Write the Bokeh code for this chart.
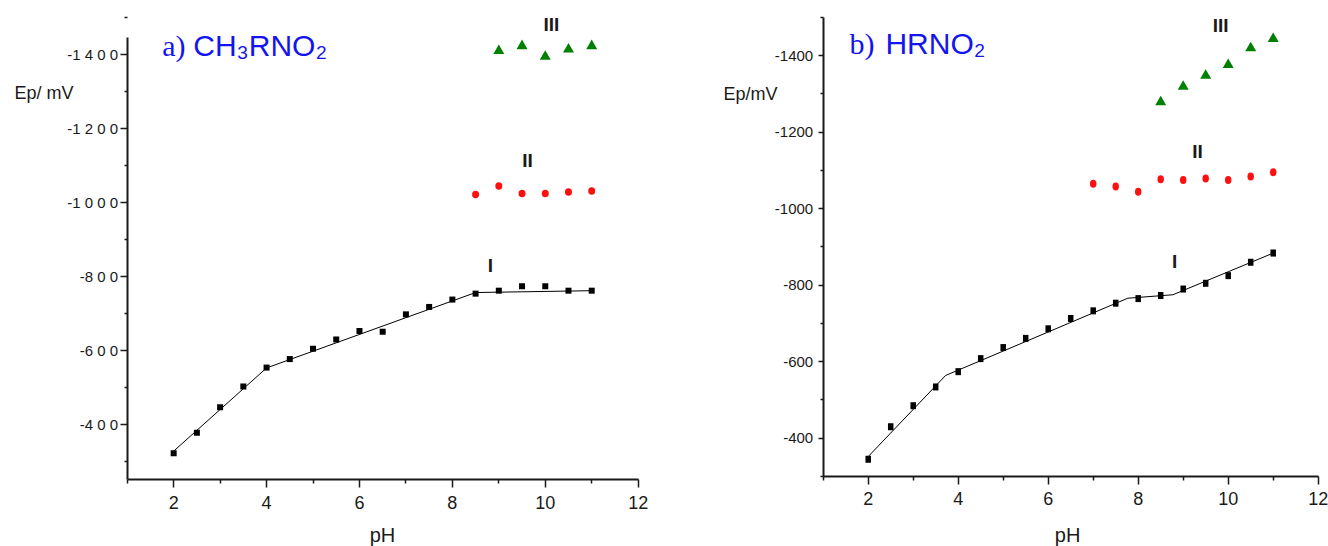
from bokeh.plotting import figure
from bokeh.models import Range1d, FixedTicker, Label
from bokeh.layouts import row
from bokeh.embed import file_html
from bokeh.resources import INLINE

# ---------------- data: panel a) CH3RNO2 ----------------
ph_a_I = [2, 2.5, 3, 3.5, 4, 4.5, 5, 5.5, 6, 6.5, 7, 7.5, 8, 8.5, 9, 9.5, 10, 10.5, 11]
ep_a_I = [-322, -378, -447, -503, -554, -577, -605, -630, -653, -651, -698, -718, -738, -754,
          -762, -774, -774, -762, -762]
fit_a_ph = [2, 4, 8.5, 11]
fit_a_ep = [-328, -553, -757, -762]
ph_a_II = [8.5, 9, 9.5, 10, 10.5, 11]
ep_a_II = [-1022, -1045, -1025, -1025, -1029, -1032]
ph_a_III = [9, 9.5, 10, 10.5, 11]
ep_a_III = [-1411, -1424, -1395, -1415, -1424]

# ---------------- data: panel b) HRNO2 ----------------
ph_b_I = [2, 2.5, 3, 3.5, 4, 4.5, 5, 5.5, 6, 6.5, 7, 7.5, 8, 8.5, 9, 9.5, 10, 10.5, 11]
ep_b_I = [-345, -430, -485, -534, -574, -608, -637, -661, -686, -713, -733, -753, -765, -773,
          -790, -805, -825, -860, -884]
fit_b_ph = [2, 3.72, 7.77, 8.77, 11]
fit_b_ep = [-352, -564, -766, -775, -884]
ph_b_II = [7, 7.5, 8, 8.5, 9, 9.5, 10, 10.5, 11]
ep_b_II = [-1065, -1058, -1044, -1077, -1075, -1079, -1075, -1084, -1095]
ph_b_III = [8.5, 9, 9.5, 10, 10.5, 11]
ep_b_III = [-1279, -1319, -1348, -1376, -1420, -1444]

# ticks
x_major = [2, 4, 6, 8, 10, 12]
x_minor = [1, 3, 5, 7, 9, 11]
y_major = [-1400, -1200, -1000, -800, -600, -400]
y_minor = [-1500, -1300, -1100, -900, -700, -500, -300]
y_labels_a = ["-1 4 0 0", "-1 2 0 0", "-1 0 0 0", "-8 0 0", "-6 0 0", "-4 0 0"]
y_labels_b = ["-1400", "-1200", "-1000", "-800", "-600", "-400"]

SANS = "Liberation Sans"
SERIF = "Liberation Serif"
INK = "#1a1a1a"
RED = "#ff1010"
GREEN = "#008000"
BLUE = "#1414f0"


def make_panel(xr, yr, y_bounds, ylabels, ystandoff, ytick_out):
    p = figure(width=664, height=546, output_backend="svg", toolbar_location=None,
               x_range=xr, y_range=yr, min_border=0)
    p.grid.visible = False
    p.outline_line_color = None
    p.background_fill_color = "white"
    p.border_fill_color = "white"
    p.xaxis.ticker = FixedTicker(ticks=x_major, minor_ticks=x_minor)
    p.yaxis.ticker = FixedTicker(ticks=y_major, minor_ticks=y_minor)
    p.yaxis.major_label_overrides = {v: s for v, s in zip(y_major, ylabels)}
    # axes drawn at pH 1 / at the bottom of the Ep range
    p.xaxis.fixed_location = y_bounds[1]
    p.xaxis.bounds = (1, 12)
    p.yaxis.fixed_location = 1
    p.yaxis.bounds = y_bounds
    for ax in (p.xaxis[0], p.yaxis[0]):
        ax.axis_line_width = 2
        ax.axis_line_color = INK
        ax.major_tick_line_color = INK
        ax.minor_tick_line_color = INK
        ax.major_tick_line_width = 1.5
        ax.minor_tick_line_width = 1.5
        ax.major_tick_in = 0
        ax.minor_tick_in = 0
        ax.major_label_text_font = SANS
        ax.major_label_text_color = INK
    p.xaxis.major_tick_out = 8
    p.xaxis.minor_tick_out = 4
    p.xaxis.major_label_text_font_size = "18px"
    p.xaxis.major_label_standoff = 8
    p.yaxis.major_tick_out = ytick_out
    p.yaxis.minor_tick_out = 3
    p.yaxis.major_label_text_font_size = "15px"
    p.yaxis.major_label_standoff = ystandoff
    return p


def add_label(p, x, y, text, font, size, color=INK, align="left", style="normal"):
    p.add_layout(Label(x=x, y=y, text=text, text_font=font, text_font_size=size,
                       text_color=color, text_align=align, text_baseline="alphabetic",
                       text_font_style=style))


# ---------------- panel a ----------------
pa = make_panel(Range1d(-1.728, 12.567), Range1d(-70, -1547), (-1448, -250), y_labels_a, 2, 7)
pa.line(fit_a_ph, fit_a_ep, line_color="black", line_width=1)
pa.rect(ph_a_I, ep_a_I, width=6, height=6, width_units="screen", height_units="screen",
        fill_color="black", line_color=None)
pa.ellipse(ph_a_II, ep_a_II, width=7, height=7.5, width_units="screen", height_units="screen",
           fill_color=RED, line_color=None)
pa.scatter(ph_a_III, ep_a_III, marker="triangle", size=11, fill_color=GREEN, line_color=None)
add_label(pa, 1.753, -1426, "a)", SERIF, "30px", BLUE)
add_label(pa, 2.421, -1426, "CH\u2083RNO\u2082", SANS, "30px", BLUE)
add_label(pa, -1.426, -1298, "Ep/ mV", SANS, "18px")
add_label(pa, 6.496, -102, "pH", SANS, "20px", align="center")
add_label(pa, 10.13, -1482, "III", SANS, "19px", align="center", style="bold")
add_label(pa, 9.62, -1114, "II", SANS, "19px", align="center", style="bold")
add_label(pa, 8.82, -830, "I", SANS, "19px", align="center", style="bold")

# ---------------- panel b ----------------
pb = make_panel(Range1d(-2.527, 12.229), Range1d(-116.9, -1544.3), (-1500, -300), y_labels_b, 5, 5)
pb.line(fit_b_ph, fit_b_ep, line_color="black", line_width=1)
pb.rect(ph_b_I, ep_b_I, width=5.5, height=7, width_units="screen", height_units="screen",
        fill_color="black", line_color=None)
pb.ellipse(ph_b_II, ep_b_II, width=6.5, height=8, width_units="screen", height_units="screen",
           fill_color=RED, line_color=None)
pb.scatter(ph_b_III, ep_b_III, marker="triangle", size=11, fill_color=GREEN, line_color=None)
add_label(pb, 1.584, -1431, "b)", SERIF, "30px", BLUE)
add_label(pb, 2.383, -1431, "HRNO\u2082", SANS, "30px", BLUE)
add_label(pb, -1.216, -1301, "Ep/mV", SANS, "18px")
add_label(pb, 6.43, -148, "pH", SANS, "20px", align="center")
add_label(pb, 9.83, -1479, "III", SANS, "19px", align="center", style="bold")
add_label(pb, 9.32, -1150, "II", SANS, "19px", align="center", style="bold")
add_label(pb, 8.81, -862, "I", SANS, "19px", align="center", style="bold")

layout = row(pa, pb)
open("out.html", "w").write(file_html(layout, INLINE))
